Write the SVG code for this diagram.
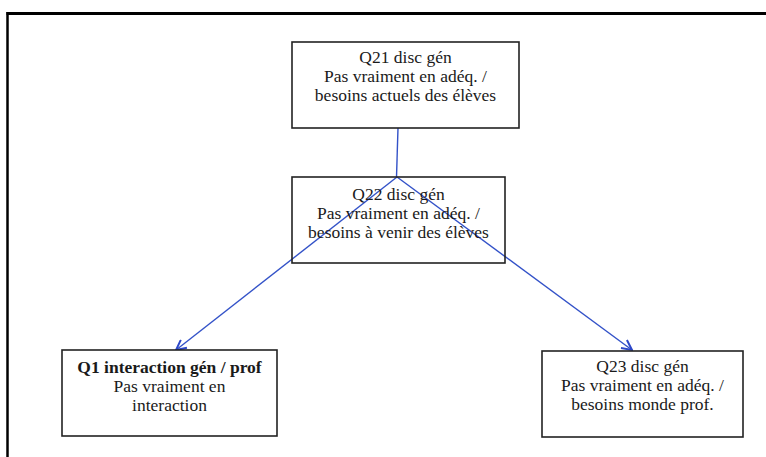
<svg xmlns="http://www.w3.org/2000/svg" width="766" height="457" viewBox="0 0 766 457">
  <style>
    .box { fill: #ffffff; stroke: #222222; stroke-width: 1.6; }
    .txt { font-family: "Liberation Serif", "Times New Roman", serif; font-size: 17.5px; fill: #1a1a1a; text-anchor: middle; }
    .bold { font-weight: bold; }
    .link { fill: none; stroke: #3352c8; stroke-width: 1.4; }
    .frame { fill: none; stroke: #000000; }
  </style>
  <defs>
    <marker id="arrow" viewBox="0 0 12 12" refX="11" refY="6" markerWidth="12" markerHeight="12" markerUnits="userSpaceOnUse" orient="auto">
      <path d="M1,1 L11,6 L1,11" fill="none" stroke="#2d47c8" stroke-width="2"/>
    </marker>
  </defs>

  <rect width="766" height="457" fill="#ffffff"/>

  <!-- page frame -->
  <line class="frame" x1="6.5" y1="13.5" x2="766" y2="13.5" stroke-width="3"/>
  <line class="frame" x1="7.5" y1="12" x2="7.5" y2="457" stroke-width="2.5"/>

  <!-- connectors -->
  <g id="connectors">
    <line class="link" x1="398" y1="128" x2="396.5" y2="177"/>
    <line class="link" x1="397" y1="177" x2="176" y2="350" marker-end="url(#arrow)"/>
    <line class="link" x1="397" y1="177" x2="632" y2="350" marker-end="url(#arrow)"/>
  </g>

  <g id="q21">
    <rect class="box" x="292" y="42" width="227" height="86"/>
    <text class="txt" x="405.5" y="63">Q21 disc gén</text>
    <text class="txt" x="405.5" y="82">Pas vraiment en adéq. /</text>
    <text class="txt" x="405.5" y="101">besoins actuels des élèves</text>
  </g>

  <g id="q22">
    <rect class="box" x="292" y="177" width="213" height="86" fill-opacity="0"/>
    <text class="txt" x="398.5" y="200">Q22 disc gén</text>
    <text class="txt" x="398.5" y="219">Pas vraiment en adéq. /</text>
    <text class="txt" x="398.5" y="238">besoins à venir des élèves</text>
  </g>

  <g id="q1">
    <rect class="box" x="62" y="350" width="215" height="86"/>
    <text class="txt bold" x="169.5" y="373">Q1 interaction gén / prof</text>
    <text class="txt" x="169.5" y="392">Pas vraiment en</text>
    <text class="txt" x="169.5" y="411">interaction</text>
  </g>

  <g id="q23">
    <rect class="box" x="542" y="351" width="201" height="86"/>
    <text class="txt" x="642.5" y="372">Q23 disc gén</text>
    <text class="txt" x="642.5" y="391">Pas vraiment en adéq. /</text>
    <text class="txt" x="642.5" y="410">besoins monde prof.</text>
  </g>
</svg>
